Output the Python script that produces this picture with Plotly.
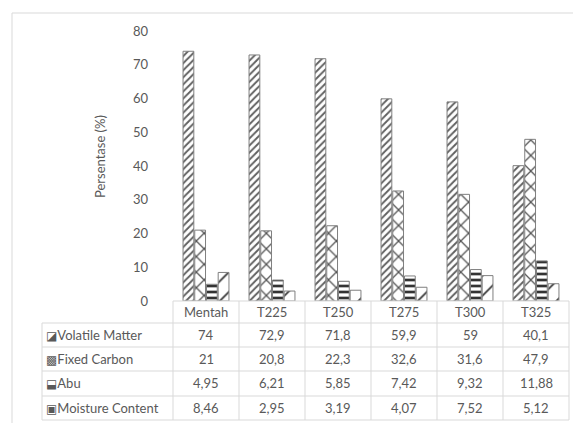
import plotly.graph_objects as go

# Sample labels and composition values (%)
categories = ["Mentah", "T225", "T250", "T275", "T300", "T325"]
series_names = ["Volatile Matter", "Fixed Carbon", "Abu", "Moisture Content"]
volatile_matter = [74, 72.9, 71.8, 59.9, 59, 40.1]
fixed_carbon = [21, 20.8, 22.3, 32.6, 31.6, 47.9]
abu = [4.95, 6.21, 5.85, 7.42, 9.32, 11.88]
moisture_content = [8.46, 2.95, 3.19, 4.07, 7.52, 5.12]
y_ticks = [0, 10, 20, 30, 40, 50, 60, 70, 80]

series_values = [volatile_matter, fixed_carbon, abu, moisture_content]

# pixel geometry of the figure
W, H = 573, 423
L, R, T, B = 173, 4, 31, 122
PW = W - L - R
PH = H - T - B

TXT = "#595959"
GRID = "#d9d9d9"
FONT = "Lato, 'Open Sans', sans-serif"

patterns = [
    dict(shape="/", size=5, solidity=0.38, fgcolor="#606060"),
    dict(shape="x", size=11, solidity=0.22, fgcolor="#555555"),
    dict(shape="-", size=6, solidity=0.45, fgcolor="#333333"),
    dict(shape="/", size=14, solidity=0.12, fgcolor="#333333"),
]
icons = ["◪", "▩", "⬓", "▣"]


def fmt(v):
    s = ("%.2f" % v).rstrip("0").rstrip(".")
    return s.replace(".", ",")


def py(pix):
    """pixel row -> paper y"""
    return (H - B - pix) / PH


def px(pix):
    """pixel column -> paper x"""
    return (pix - L) / PW


fig = go.Figure()
for name, vals, pat in zip(series_names, series_values, patterns):
    fig.add_trace(go.Bar(
        name=name, x=categories, y=vals,
        marker=dict(
            color="white",
            line=dict(color="#7f7f7f", width=1),
            pattern=dict(bgcolor="white", fillmode="replace", **pat),
        ),
    ))

shapes = []
annotations = []

# outer chart frame
shapes.append(dict(type="rect", xref="paper", yref="paper",
                   x0=px(12), x1=px(W + 20), y0=py(13), y1=py(H + 20),
                   line=dict(color=GRID, width=1), layer="below"))

# data table grid
row_lines = [323, 347, 371, 396, 420]
table_left = px(42)
shapes.append(dict(type="line", xref="paper", yref="paper",
                   x0=0, x1=1, y0=py(301), y1=py(301),
                   line=dict(color=GRID, width=1)))
for r in row_lines:
    shapes.append(dict(type="line", xref="paper", yref="paper",
                       x0=table_left, x1=1, y0=py(r), y1=py(r),
                       line=dict(color=GRID, width=1)))
for k in range(len(categories) + 1):
    xk = k / len(categories)
    shapes.append(dict(type="line", xref="paper", yref="paper",
                       x0=xk, x1=xk, y0=py(301), y1=py(420),
                       line=dict(color=GRID, width=1)))
shapes.append(dict(type="line", xref="paper", yref="paper",
                   x0=table_left, x1=table_left, y0=py(323), y1=py(420),
                   line=dict(color=GRID, width=1)))

cell_font = dict(size=13, color=TXT, family=FONT)

# header row: category names
for c in categories:
    annotations.append(dict(x=c, xref="x", y=py(312), yref="paper",
                            xanchor="center", yanchor="middle",
                            text=c, showarrow=False, font=cell_font))

# table body: series labels and values
row_centers = [335, 359, 383, 408]
for name, vals, icon, yc in zip(series_names, series_values, icons, row_centers):
    annotations.append(dict(
        x=px(44), xref="paper", y=py(yc), yref="paper",
        xanchor="left", yanchor="middle",
        text=f"<span style='font-family:DejaVu Sans;font-size:12px'>{icon}</span>{name}",
        showarrow=False, font=cell_font))
    for c, v in zip(categories, vals):
        annotations.append(dict(x=c, xref="x", y=py(yc), yref="paper",
                                xanchor="center", yanchor="middle",
                                text=fmt(v), showarrow=False, font=cell_font))

# value axis title
annotations.append(dict(x=px(100), xref="paper", y=py(157), yref="paper",
                        xanchor="center", yanchor="middle",
                        text="Persentase (%)", textangle=-90, showarrow=False,
                        font=cell_font))

fig.update_layout(
    width=W, height=H,
    margin=dict(l=L, r=R, t=T, b=B),
    paper_bgcolor="white", plot_bgcolor="white",
    barmode="group", bargap=0.29, bargroupgap=0.08,
    showlegend=False,
    shapes=shapes, annotations=annotations,
    font=dict(family=FONT, color=TXT, size=13),
)
fig.update_xaxes(type="category", showticklabels=False, showgrid=False,
                 showline=False, zeroline=False, ticks="")
fig.update_yaxes(range=[0, 80], tickvals=y_ticks, showgrid=False,
                 zeroline=False, showline=False, ticks="",
                 ticklabelstandoff=24,
                 tickfont=dict(size=13, color=TXT, family=FONT))

fig.write_html("out.html")
